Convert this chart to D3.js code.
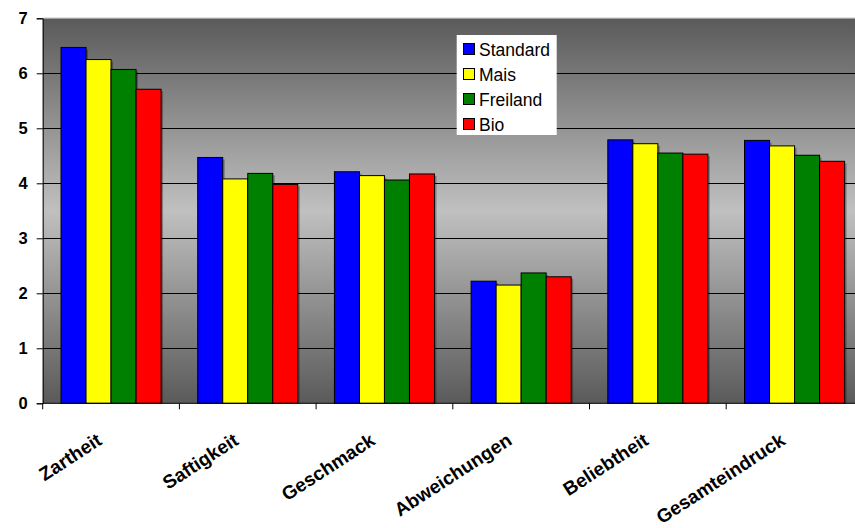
<!DOCTYPE html>
<html>
<head>
<meta charset="utf-8">
<script src="https://cdn.jsdelivr.net/npm/d3@7"></script>
<style>
  html, body { margin: 0; padding: 0; background: #fff; }
  svg { display: block; font-family: "Liberation Sans", Arial, sans-serif; }
</style>
</head>
<body>
<svg id="chart" width="855" height="528"></svg>
<script>
// Sensory ratings per attribute for four feeding variants
const categories = ["Zartheit", "Saftigkeit", "Geschmack", "Abweichungen", "Beliebtheit", "Gesamteindruck"];
const seriesNames = ["Standard", "Mais", "Freiland", "Bio"];
const seriesColors = ["#0000ff", "#ffff00", "#008000", "#ff0000"];
const standard = [6.47, 4.47, 4.21, 2.22, 4.79, 4.78];
const mais     = [6.25, 4.08, 4.14, 2.15, 4.72, 4.68];
const freiland = [6.07, 4.18, 4.06, 2.37, 4.55, 4.51];
const bio      = [5.71, 3.98, 4.17, 2.30, 4.53, 4.40];
const yTicks = [0, 1, 2, 3, 4, 5, 6, 7];

const seriesValues = [standard, mais, freiland, bio];

const svg = d3.select("#chart");
const plotLeft = 42.7, plotTop = 18.3, plotBottom = 403.3;
const step = 136.7;
const plotRight = plotLeft + step * categories.length;

const x = d3.scaleBand().domain(categories).range([plotLeft, plotRight]).paddingInner(0.268).paddingOuter(0.134);
const xs = d3.scaleBand().domain(seriesNames).range([0, x.bandwidth()]);
const y = d3.scaleLinear().domain([0, 7]).range([plotBottom, plotTop]);

// Plot background: dark at the edges, light band in the middle
const defs = svg.append("defs");
const grad = defs.append("linearGradient").attr("id", "bg").attr("x1", 0).attr("y1", 0).attr("x2", 0).attr("y2", 1);
grad.append("stop").attr("offset", "0%").attr("stop-color", "#5a5a5a");
grad.append("stop").attr("offset", "50%").attr("stop-color", "#c0c0c0");
grad.append("stop").attr("offset", "100%").attr("stop-color", "#5a5a5a");

svg.append("rect")
  .attr("x", plotLeft).attr("y", plotTop)
  .attr("width", plotRight - plotLeft).attr("height", plotBottom - plotTop)
  .attr("fill", "url(#bg)");

svg.append("line")
  .attr("x1", plotLeft).attr("x2", plotRight).attr("y1", plotTop - 0.5).attr("y2", plotTop - 0.5)
  .attr("stroke", "#d8d8d8").attr("stroke-width", 1);

// Horizontal gridlines
svg.append("g")
  .selectAll("line")
  .data(yTicks.filter(t => t > 0 && t < 7))
  .join("line")
  .attr("x1", plotLeft).attr("x2", plotRight)
  .attr("y1", d => Math.round(y(d)) + 0.5).attr("y2", d => Math.round(y(d)) + 0.5)
  .attr("stroke", "#000").attr("stroke-width", 1);

// Bars
const groups = svg.append("g")
  .selectAll("g")
  .data(categories)
  .join("g")
  .attr("transform", d => `translate(${x(d)},0)`);

groups.each(function(cat, ci) {
  const g = d3.select(this);
  const rows = seriesNames.map((s, si) => ({ s, si, v: seriesValues[si][ci] }));
  g.selectAll("rect.shadow")
    .data(rows)
    .join("rect")
    .attr("class", "shadow")
    .attr("x", d => xs(d.s) + 2)
    .attr("y", d => y(d.v) + 2)
    .attr("width", xs.bandwidth())
    .attr("height", d => plotBottom - y(d.v) - 2)
    .attr("fill", "#000").attr("opacity", 0.3);
  g.selectAll("rect.bar")
    .data(rows)
    .join("rect")
    .attr("class", "bar")
    .attr("x", d => xs(d.s))
    .attr("y", d => y(d.v))
    .attr("width", xs.bandwidth())
    .attr("height", d => plotBottom - y(d.v))
    .attr("fill", d => seriesColors[d.si])
    .attr("stroke", "#000").attr("stroke-width", 1);
});

// Y axis
const yAxis = svg.append("g")
  .attr("transform", `translate(${plotLeft},0)`)
  .call(d3.axisLeft(y).tickValues(yTicks).tickSize(6).tickPadding(9).tickFormat(d3.format("d")));
yAxis.select(".domain").attr("stroke", "#000");
yAxis.selectAll(".tick line").attr("stroke", "#000");
yAxis.selectAll("text")
  .attr("font-size", 16.5).attr("font-weight", "bold").attr("fill", "#000")
  .attr("font-family", "'Liberation Sans', Arial, sans-serif");

// X axis line with ticks at category boundaries
const xAxisG = svg.append("g");
xAxisG.append("line")
  .attr("x1", plotLeft).attr("x2", plotRight).attr("y1", plotBottom).attr("y2", plotBottom)
  .attr("stroke", "#000");
xAxisG.selectAll("line.tick")
  .data(d3.range(categories.length + 1))
  .join("line")
  .attr("class", "tick")
  .attr("x1", i => plotLeft + i * step).attr("x2", i => plotLeft + i * step)
  .attr("y1", plotBottom).attr("y2", plotBottom + 6)
  .attr("stroke", "#000");

// Rotated category labels
xAxisG.selectAll("text")
  .data(categories)
  .join("text")
  .attr("transform", d => `translate(${x(d) + x.bandwidth() / 2 - 8},443.5) rotate(-33)`)
  .attr("text-anchor", "end")
  .attr("font-size", 19).attr("font-weight", "bold").attr("fill", "#000")
  .text(d => d);

// Legend
const legend = svg.append("g");
legend.append("rect")
  .attr("x", 456.7).attr("y", 35).attr("width", 100).attr("height", 100)
  .attr("fill", "#fff");
const items = legend.selectAll("g.item")
  .data(seriesNames)
  .join("g")
  .attr("class", "item")
  .attr("transform", (d, i) => `translate(463,${49 + i * 25})`);
items.append("rect")
  .attr("x", 0.5).attr("y", -5.5).attr("width", 11).attr("height", 11)
  .attr("fill", (d, i) => seriesColors[i])
  .attr("stroke", "#000").attr("stroke-width", 1);
items.append("text")
  .attr("x", 16).attr("y", 6.5)
  .attr("font-size", 17.5).attr("fill", "#000")
  .text(d => d);
</script>
</body>
</html>
